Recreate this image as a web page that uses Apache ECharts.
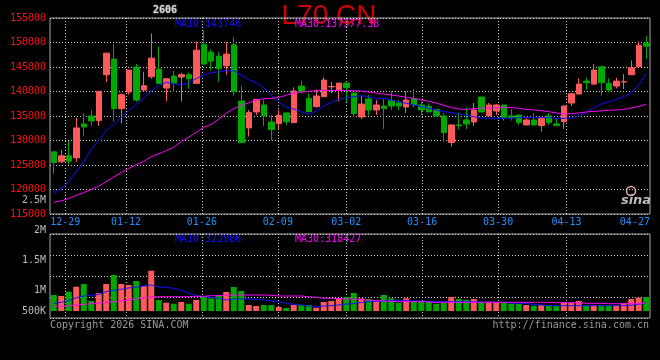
<!DOCTYPE html>
<html><head><meta charset="utf-8">
<script src="https://cdn.jsdelivr.net/npm/echarts@6/dist/echarts.min.js"></script>
<style>html,body{margin:0;padding:0;background:#000;}#c{width:660px;height:360px;}</style>
</head><body><div id="c"></div>
<script>
const dates = ['12-25','12-26','12-29','12-30','12-31','01-05','01-06','01-07','01-08','01-09',
'01-12','01-13','01-14','01-15','01-16','01-19','01-20','01-21','01-22','01-23',
'01-26','01-27','01-28','01-29','01-30','02-02','02-03','02-04','02-05','02-06',
'02-09','02-10','02-11','02-12','02-13','02-24','02-25','02-26','02-27','03-02',
'03-03','03-04','03-05','03-06','03-09','03-10','03-11','03-12','03-13','03-16',
'03-17','03-18','03-19','03-20','03-23','03-24','03-25','03-26','03-27','03-30',
'03-31','04-01','04-02','04-03','04-07','04-08','04-09','04-10','04-13','04-14',
'04-15','04-16','04-17','04-20','04-21','04-22','04-23','04-24','04-27','04-28'];

const labelDates = ['12-29','01-12','01-26','02-09','03-02','03-16','03-30','04-13','04-27'];
const gridDates  = ['12-29','01-12','01-26','02-09','03-02','03-16','03-30','04-13'];

const opens = [127680,125650,126870,126460,133380,135010,134060,143420,146610,136500,
139890,144980,140300,143010,144570,140710,143150,142950,143420,141660,
149660,148030,147220,145250,149530,138060,132570,135820,137250,133790,
133450,135620,133650,141110,138600,136910,138940,140960,140230,141720,
139690,134800,138470,136230,137040,138130,137650,136840,138600,137250,
136910,136360,135010,129580,133180,134190,133790,138870,135010,136030,
137250,135010,135210,133180,134190,133040,135010,133380,133850,137650,
139490,142130,141520,145050,141660,141110,141950,143420,145050,149860];

const closes = [125510,126870,125780,132570,132770,133990,140030,147830,136500,139350,
144370,138260,141180,146810,141660,142610,141660,143420,142610,148440,
145590,146200,144710,147630,139960,129580,135690,138400,135010,132230,
135140,133850,140100,140030,135890,139080,142330,141000,141720,140840,
135480,137450,136230,137250,136500,137040,137040,138260,137250,136230,
135820,135010,131620,133180,133040,133380,136230,135820,137250,137250,
134740,134670,133650,134190,133180,134530,133650,133040,137040,139550,
141520,141790,144370,141790,140300,142130,142000,144840,149460,149250];

const lows = [123200,125370,125100,125650,130940,132970,132970,141930,133850,133520,
139350,137920,139890,142600,141520,137990,139890,137990,140570,141600,
145500,144370,141930,143420,139150,129550,130800,135210,132970,129990,
132160,133180,133520,139620,135850,136770,138900,139620,137990,137860,
134740,134400,135210,135210,132360,136230,136230,135620,136700,135210,
135800,134990,129720,128770,132290,132360,132970,135800,134870,135210,
134060,134060,133180,133150,132970,131820,133180,133000,132360,137040,
139350,140300,141320,139150,139820,140640,140500,143400,145000,146610];

const highs = [127700,128090,129920,134600,135550,136230,140050,147850,149660,139400,
144400,145590,144030,151830,149190,142700,144230,143830,143830,150200,
152500,148580,148030,150070,151150,141110,136230,138450,138400,135210,
136230,135650,140840,142200,139620,140440,142950,141930,141750,141750,
139720,139080,139280,138260,138470,140100,138260,140030,140500,137920,
137590,136400,135550,133200,135690,136770,137650,138900,137650,137450,
137300,136430,135250,134530,135550,134740,135550,134530,137100,139600,
142670,142810,145590,145250,142670,142810,143560,146340,150200,151290];

const ma10 = [119180,120180,121680,123690,125660,128220,130020,132040,133360,134660,
136110,137360,138560,140180,141250,141850,141650,141310,141790,142630,
143420,143830,144030,144300,144230,143350,142400,141790,140770,139210,
137860,136770,136430,135890,135350,136030,137040,137720,138400,138740,
138940,139150,138940,138600,138600,138260,137930,137590,137250,136910,
136570,136230,135890,135690,135410,135140,134870,134600,134530,134530,
134530,134530,134670,134740,134740,134740,134670,134530,134530,134600,
135010,135750,136700,137450,137860,138400,138940,139760,141320,143746];

const ma30 = [117380,117700,118150,118800,119340,120020,120690,121640,122530,123470,
124290,125100,125710,126730,127270,127950,128630,129780,130670,131680,
132700,133310,134400,135550,136500,137180,137720,138260,138540,138600,
138810,139210,139690,139890,140030,140160,140230,140230,140230,140160,
140160,140100,139890,139690,139490,139280,139080,138810,138600,138260,
137990,137650,137180,136700,136430,136360,136500,136570,136640,136700,
136770,136700,136570,136360,136230,136090,135890,135620,135410,135480,
135620,135820,135960,136030,136160,136230,136360,136640,136980,137377.38];

const volumes = [640000,600000,772000,972000,1080000,400000,720000,1080000,1440000,1080000,
1040000,1200000,1000000,1612000,440000,332000,292000,360000,292000,440000,
600000,508000,640000,760000,960000,800000,240000,200000,240000,240000,
160000,120000,240000,240000,240000,132000,360000,400000,508000,560000,
720000,508000,480000,400000,640000,508000,332000,508000,400000,400000,
372000,292000,332000,560000,480000,440000,480000,332000,372000,332000,
332000,292000,280000,240000,212000,240000,240000,200000,348000,332000,
400000,240000,240000,240000,240000,240000,308000,480000,532000,560000];

const volMa10 = [308000,348000,412000,532000,600000,628000,668000,772000,828000,868000,
920000,960000,1000000,1040000,960000,948000,908000,828000,708000,612000,
572000,548000,508000,440000,480000,480000,480000,480000,452000,400000,
372000,308000,268000,240000,200000,160000,200000,212000,240000,280000,
300000,340000,372000,388000,400000,420000,440000,420000,400000,400000,
380000,372000,372000,372000,372000,372000,372000,360000,348000,348000,
348000,320000,312000,300000,260000,240000,212000,212000,212000,212000,
212000,212000,212000,212000,212000,212000,212000,230000,268000,322986];

const volMa30 = [200000,200000,200000,240000,268000,292000,320000,348000,372000,400000,
440000,480000,520000,560000,572000,572000,572000,572000,572000,588000,
588000,612000,612000,640000,640000,640000,640000,640000,640000,628000,
600000,600000,600000,600000,572000,548000,508000,508000,492000,480000,
480000,460000,440000,420000,400000,388000,372000,372000,372000,372000,
360000,348000,348000,348000,348000,348000,348000,348000,348000,348000,
348000,348000,348000,348000,348000,348000,348000,332000,332000,332000,
332000,308000,308000,308000,292000,292000,292000,292000,292000,318427];

const priceTicks = {min:115000, max:155000, step:5000};
const volTickValues = [500000,1000000,1500000,2000000,2500000];
const volTickLabels = ['500K','1M','1.5M','2M','2.5M'];
const titleText = 'L70 CN';
const codeText = '2606';

const UP = '#ff5a5a', DOWN = '#00a800';
const FONT = "'DejaVu Sans Mono', monospace";
const DOT = [1, 2];
const labelSet = new Set(labelDates);
const lineSet = new Set(gridDates);
const lastLabel = labelDates[labelDates.length - 1];

const candleData = dates.map((d, i) => [opens[i], closes[i], lows[i], highs[i]]);
const volData = volumes.map((v, i) => ({value: v, itemStyle: {color: closes[i] >= opens[i] ? UP : DOWN}}));
const last = a => a[a.length - 1];

const chart = echarts.init(document.getElementById('c'));
const hiddenCat = (g, gap) => ({type:'category', gridIndex:g, data:dates, boundaryGap:gap,
  axisLine:{show:false}, axisTick:{show:false}, axisLabel:{show:false}, splitLine:{show:false}});
const gridCat = (g, withLabels) => ({type:'category', gridIndex:g, data:dates, boundaryGap:false, position:'bottom',
  axisLine:{show:false}, axisTick:{show:false},
  axisLabel: withLabels ? {interval:(i, v) => labelSet.has(v), color:'#1e90ff', fontFamily:FONT, fontSize:10, margin:3,
     formatter: v => v === lastLabel ? '{r|' + v + '}' : v,
     rich:{r:{color:'#1e90ff', fontFamily:FONT, fontSize:10, padding:[0,15,0,0]}}} : {show:false},
  splitLine:{show:true, interval:(i, v) => lineSet.has(v), lineStyle:{color:'#cfcfcf', type:DOT, width:1}}});

const txt = (x, y, text, fill, extra) => Object.assign({type:'text', x:x, y:y, silent:true,
  style:{text:text, fill:fill, font:'10px ' + FONT, align:'left', verticalAlign:'middle'}}, extra || {});

chart.setOption({
  backgroundColor:'#000',
  animation:false,
  grid:[
    {left:50, right:10, top:18, height:196, show:true, borderColor:'#aaa', borderWidth:1},
    {left:50, right:10, top:234, height:84, show:true, borderColor:'#aaa', borderWidth:1},
    {left:50, right:10, top:200, height:120, show:false}
  ],
  xAxis:[
    hiddenCat(0, true),
    gridCat(0, true),
    hiddenCat(1, true),
    gridCat(1, false),
    Object.assign(hiddenCat(2, true), {show:false})
  ],
  yAxis:[
    {type:'value', gridIndex:0, min:priceTicks.min, max:priceTicks.max, interval:priceTicks.step,
     axisLine:{show:false}, axisTick:{show:false},
     axisLabel:{color:'#ff1010', fontFamily:FONT, fontSize:10, margin:4, formatter: v => String(v)},
     splitLine:{show:true, lineStyle:{color:'#cfcfcf', type:DOT, width:1}}},
    {type:'value', gridIndex:1, min:-280000, max:3080000, interval:840000,
     axisLine:{show:false}, axisTick:{show:false}, axisLabel:{show:false},
     splitLine:{show:true, lineStyle:{color:'#cfcfcf', type:DOT, width:1}}},
    {type:'value', gridIndex:2, min:volTickValues[0], max:last(volTickValues), interval:volTickValues[1]-volTickValues[0],
     axisLine:{show:false}, axisTick:{show:false}, splitLine:{show:false},
     axisLabel:{color:'#bbb', fontFamily:FONT, fontSize:10, margin:4,
       formatter: v => { const t = volTickLabels[volTickValues.indexOf(v)]; return v === volTickValues[0] ? '{u|' + t + '}' : t; },
       rich:{u:{color:'#bbb', fontFamily:FONT, fontSize:10, padding:[0,0,18,0]}}}}
  ],
  series:[
    {type:'candlestick', xAxisIndex:0, yAxisIndex:0, data:candleData, barWidth:6,
     itemStyle:{color:UP, color0:DOWN, borderColor:UP, borderColor0:DOWN, borderWidth:1}},
    {type:'line', xAxisIndex:0, yAxisIndex:0, data:ma10, symbol:'none', lineStyle:{color:'#1010ff', width:1}, z:3},
    {type:'line', xAxisIndex:0, yAxisIndex:0, data:ma30, symbol:'none', lineStyle:{color:'#ff00ff', width:1}, z:3},
    {type:'bar', xAxisIndex:2, yAxisIndex:1, data:volData, barWidth:6},
    {type:'line', xAxisIndex:2, yAxisIndex:1, data:volMa10, symbol:'none', lineStyle:{color:'#1010ff', width:1}, z:3},
    {type:'line', xAxisIndex:2, yAxisIndex:1, data:volMa30, symbol:'none', lineStyle:{color:'#ff00ff', width:1}, z:3}
  ],
  graphic:[
    {type:'text', x:329, y:16, z:-10, silent:true,
     style:{text:titleText, fill:'#d00000', font:'28px "Liberation Sans", Arial, sans-serif', align:'center', verticalAlign:'middle'}},
    txt(153, 10, codeText, '#d8d8d8', {style:{text:codeText, fill:'#d8d8d8', font:'bold 10px ' + FONT, align:'left', verticalAlign:'middle', stroke:'#555', lineWidth:1}}),
    txt(175, 24, 'MA10:' + last(ma10), '#1010ff'),
    txt(295, 24, 'MA30:' + last(ma30), '#ff00ff'),
    txt(175, 239, 'MA10:' + last(volMa10), '#1010ff'),
    txt(295, 239, 'MA30:' + last(volMa30), '#ff00ff'),
    txt(50, 325, 'Copyright 2026 SINA.COM', '#9a9a9a'),
    txt(649, 325, 'http://finance.sina.com.cn', '#9a9a9a', {style:{text:'http://finance.sina.com.cn', fill:'#9a9a9a', font:'10px ' + FONT, align:'right', verticalAlign:'middle'}}),
    {type:'circle', shape:{cx:631, cy:191, r:4.5}, silent:true, style:{fill:'none', stroke:'#f0a8a8', lineWidth:1.5}},
    {type:'text', x:636, y:201, silent:true,
     style:{text:'sina', fill:'#bdbdbd', font:'italic bold 13px "DejaVu Sans", sans-serif', align:'center', verticalAlign:'middle'}}
  ]
});
</script></body></html>
